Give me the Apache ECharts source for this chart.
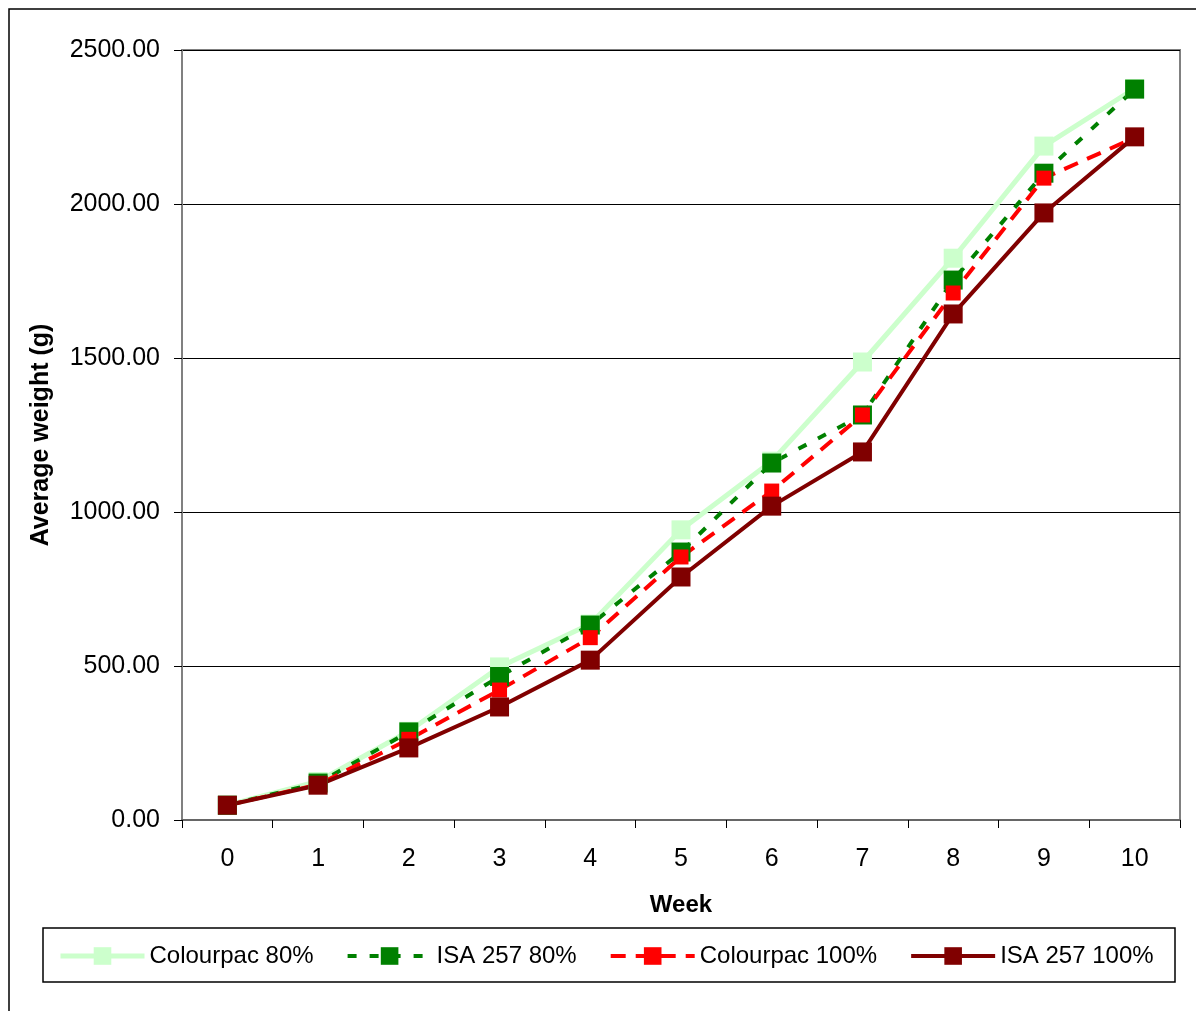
<!DOCTYPE html>
<html>
<head>
<meta charset="utf-8">
<script src="https://cdn.jsdelivr.net/npm/echarts@6/dist/echarts.min.js"></script>
<style>
html,body{margin:0;padding:0;background:#fff;}
#chart{width:1196px;height:1011px;}
</style>
</head>
<body>
<div id="chart"></div>
<script>
const weeks = ['0','1','2','3','4','5','6','7','8','9','10'];
const colourpac80 = [48, 125, 288, 497, 636, 942, 1165, 1487, 1824, 2188, 2375];
const isa80 = [48, 120, 286, 466, 633, 870, 1159, 1315, 1753, 2100, 2373];
const colourpac100 = [48, 115, 262, 422, 592, 854, 1068, 1315, 1711, 2084, 2215];
const isa100 = [48, 113, 234, 367, 519, 789, 1019, 1195, 1643, 1971, 2218];
const seriesNames = ['Colourpac 80%', 'ISA 257 80%', 'Colourpac 100%', 'ISA 257 100%'];
const yTicks = [0, 500, 1000, 1500, 2000, 2500];

const FONT = 'Liberation Sans, Arial, sans-serif';
const chart = echarts.init(document.getElementById('chart'), null, {renderer: 'canvas'});

function mk(name, data, color, width, dash, size) {
  return {
    name: name, type: 'line', data: data,
    symbol: 'rect', symbolSize: size,
    lineStyle: {color: color, width: width, type: dash},
    itemStyle: {color: color, borderColor: color, borderWidth: 0},
    emphasis: {disabled: true},
    animation: false
  };
}

chart.setOption({
  animation: false,
  backgroundColor: '#fff',
  textStyle: {fontFamily: FONT, color: '#000'},
  graphic: [
    {type: 'rect', shape: {x: 9, y: 9, width: 1300, height: 1100}, style: {fill: 'none', stroke: '#000', lineWidth: 1.5}, silent: true, z: -1},
    {type: 'rect', shape: {x: 43, y: 928, width: 1132, height: 54}, style: {fill: 'none', stroke: '#000', lineWidth: 1.5}, silent: true, z: -1}
  ],
  grid: {left: 182, right: 16, top: 50, bottom: 191, show: true, borderColor: '#808080', borderWidth: 2, backgroundColor: 'transparent'},
  legend: {
    left: 58, top: 944, padding: 0,
    itemWidth: 84, itemHeight: 22, itemGap: 32,
    lineStyle: {width: 4},
    textStyle: {fontFamily: FONT, fontSize: 24, color: '#000', padding: [0,0,0,0]},
    data: [
      {name: seriesNames[0], lineStyle: {width: 5}},
      {name: seriesNames[1]},
      {name: seriesNames[2]},
      {name: seriesNames[3]}
    ]
  },
  xAxis: {
    type: 'category', data: weeks, boundaryGap: true,
    name: 'Week', nameLocation: 'middle', nameGap: 73,
    nameTextStyle: {fontFamily: FONT, fontSize: 24, fontWeight: 'bold', color: '#000'},
    axisLine: {lineStyle: {color: '#666', width: 2}},
    axisTick: {show: true, alignWithLabel: false, length: 8, lineStyle: {color: '#000', width: 1}},
    axisLabel: {fontFamily: FONT, fontSize: 25, color: '#000', margin: 27}
  },
  yAxis: {
    type: 'value', min: 0, max: 2500, interval: 500,
    name: 'Average weight (g)', nameLocation: 'middle', nameGap: 128,
    nameTextStyle: {fontFamily: FONT, fontSize: 25, fontWeight: 'bold', color: '#000'},
    axisLine: {show: true, lineStyle: {color: '#808080', width: 2}},
    axisTick: {show: true, length: 8, lineStyle: {color: '#000', width: 1}},
    axisLabel: {fontFamily: FONT, fontSize: 25, color: '#000', margin: 22,
      formatter: v => yTicks.includes(v) ? v.toFixed(2) : ''},
    splitLine: {show: true, lineStyle: {color: '#000', width: 1}}
  },
  series: [
    mk(seriesNames[0], colourpac80, '#CCFFCC', 5, 'solid', 19),
    mk(seriesNames[1], isa80, '#008000', 4, [9, 13], 19),
    mk(seriesNames[2], colourpac100, '#FF0000', 4, [15, 10], 15),
    mk(seriesNames[3], isa100, '#800000', 4, 'solid', 19)
  ]
});
</script>
</body>
</html>
